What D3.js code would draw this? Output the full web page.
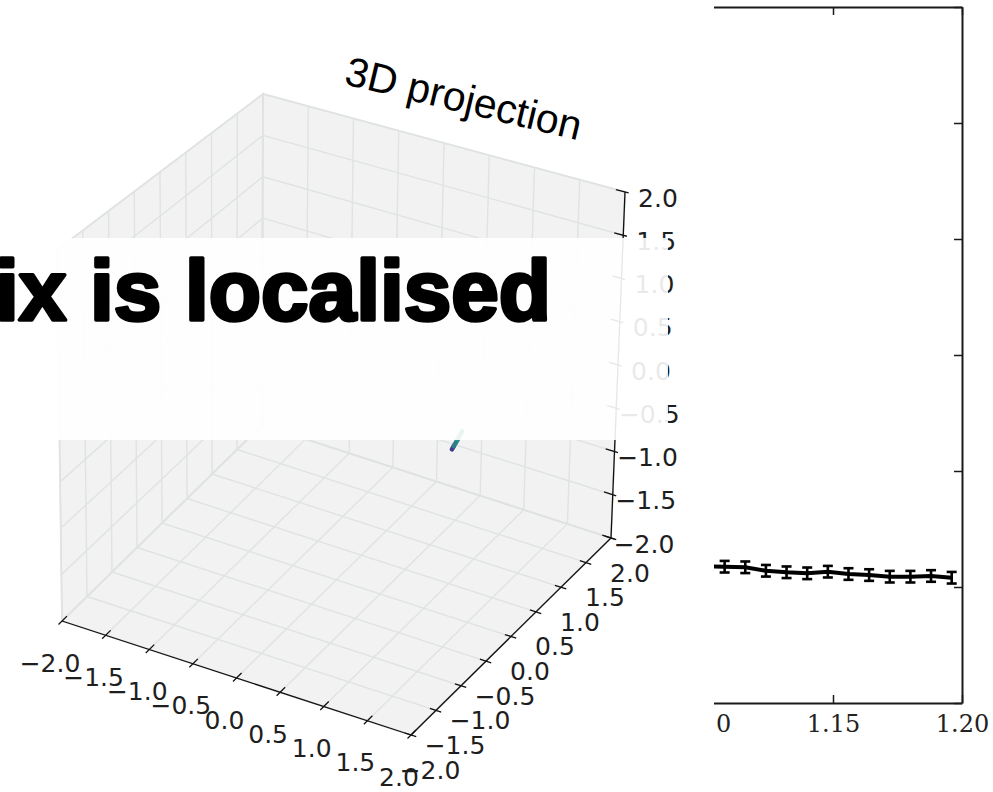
<!DOCTYPE html>
<html>
<head>
<meta charset="utf-8">
<script src="https://cdn.jsdelivr.net/npm/d3@7"></script>
<style>
body{margin:0;background:#fff;overflow:hidden}
svg{display:block}
</style>
</head>
<body>
<script>
//----------------
//Data
//----------------
var ticks3d = [-2, -1.5, -1, -0.5, 0, 0.5, 1, 1.5, 2]

//the bit of the 3D curve that shows below the banner
var curveX = [1.29, 1.31, 1.35, 1.40]
var curveY = [0, 0, 0, 0]
var curveZ = [-0.17, -0.13, -0.05, 0.06]
var curveColors = ['#443a8a', '#2f7d8a', '#2a9184']

//right hand panel (error bar plot)
var errX = [1.100, 1.108, 1.116, 1.124, 1.132, 1.140, 1.148, 1.156, 1.164, 1.172, 1.180, 1.188, 1.196]
var errY = [1.18, 1.175, 1.170, 1.140, 1.127, 1.118, 1.132, 1.112, 1.103, 1.089, 1.089, 1.095, 1.080]
var errE = [0.05, 0.05, 0.05, 0.05, 0.05, 0.05, 0.05, 0.05, 0.05, 0.05, 0.05, 0.05, 0.05]
var panelXTicks = [1.10, 1.15, 1.20]
var panelYTicks = [0, 1, 2, 3, 4, 5, 6]

var bannerText = 'ix is localised'
var titleText = '3D projection'

//----------------
//Layout
//----------------
var _width = 993,
	_height = 792

//screen position of the 8 corners of the 3D box, key = x y z (0 low, 1 high)
var _corners = {
	'000' : [62, 621],
	'100' : [411, 735],
	'010' : [262, 425],
	'110' : [611, 538],
	'001' : [57, 250],
	'101' : [413, 345],
	'011' : [263, 94],
	'111' : [625, 192]
}

var _svg

var _u = d3.scaleLinear().domain([-2, 2]).range([0, 1])
var _fmt = d3.format('.1f')

/**
 * Project a data point of the box with trilinear blending of the corners
 */
function _proj(x, y, z){
	var u = _u(x), v = _u(y), w = _u(z)
	var out = [0, 0]
	for ( var i = 0; i < 2; i++ ){
		for ( var j = 0; j < 2; j++ ){
			for ( var k = 0; k < 2; k++ ){
				var f = (i ? u : 1-u) * (j ? v : 1-v) * (k ? w : 1-w)
				var c = _corners['' + i + j + k]
				out[0] += f * c[0]
				out[1] += f * c[1]
			}
		}
	}
	return out
}

var _line = d3.line()

function _seg(g, a, b){
	return g.append('path').attr('d', _line([_proj.apply(null, a), _proj.apply(null, b)]))
}

function _draw3d(){
	var g = _svg.append('g').attr('id', 'g-3d')

	//Panes: floor, left (x=-2), back (y=2)
	var panes = [
		[[-2,-2,-2],[2,-2,-2],[2,2,-2],[-2,2,-2]],
		[[-2,-2,-2],[-2,2,-2],[-2,2,2],[-2,-2,2]],
		[[-2,2,-2],[2,2,-2],[2,2,2],[-2,2,2]]
	]
	g.append('g').selectAll('path').data(panes).enter().append('path')
		.attr('d', function(d){ return _line(d.map(function(p){ return _proj(p[0], p[1], p[2]) })) + 'Z' })
		.attr('fill', '#f2f2f2')
		.attr('stroke', '#e0e2e2')
		.attr('stroke-width', 1.8)

	//Grid lines
	var gGrid = g.append('g').attr('stroke', '#dfe3e3').attr('stroke-width', 1.4).attr('fill', 'none')
	ticks3d.forEach(function(t){
		//floor
		_seg(gGrid, [t,-2,-2], [t,2,-2])
		_seg(gGrid, [-2,t,-2], [2,t,-2])
		//left pane
		_seg(gGrid, [-2,t,-2], [-2,t,2])
		_seg(gGrid, [-2,-2,t], [-2,2,t])
		//back pane
		_seg(gGrid, [t,2,-2], [t,2,2])
		_seg(gGrid, [-2,2,t], [2,2,t])
	})

	//Axis lines
	var gAx = g.append('g').attr('stroke', '#111').attr('stroke-width', 1.3).attr('fill', 'none')
	_seg(gAx, [-2,-2,-2], [2,-2,-2])
	_seg(gAx, [2,-2,-2], [2,2,-2])
	_seg(gAx, [2,2,-2], [2,2,2])

	//Ticks
	ticks3d.forEach(function(t){
		_seg(gAx, [t,-1.9,-2], [t,-2.07,-2])
		_seg(gAx, [1.93,t,-2], [2.06,t,-2])
		_seg(gAx, [1.9,2,t], [2.04,2,t])
	})

	//Tick labels
	var gLab = g.append('g')
		.attr('font-family', 'DejaVu Sans')
		.attr('font-size', 25)
		.attr('fill', '#1e1e1e')
		.attr('text-anchor', 'middle')
		.attr('dominant-baseline', 'central')
	gLab.selectAll('text.xl').data(ticks3d).enter().append('text')
		.attr('x', function(d){ return _proj(d,-2,-2)[0] - 12 })
		.attr('y', function(d){ return _proj(d,-2,-2)[1] + 42 })
		.text(_fmt)
	gLab.selectAll('text.yl').data(ticks3d).enter().append('text')
		.attr('x', function(d){ return _proj(2,d,-2)[0] + 19 })
		.attr('y', function(d){ return _proj(2,d,-2)[1] + 35 })
		.text(_fmt)
	gLab.selectAll('text.zl').data(ticks3d).enter().append('text')
		.attr('x', function(d){ return _proj(2,2,d)[0] + 33 })
		.attr('y', function(d){ return _proj(2,2,d)[1] + 6 })
		.text(_fmt)

	//The curve (what shows of it)
	var gCurve = g.append('g').attr('fill', 'none').attr('stroke-width', 4.5).attr('stroke-linecap', 'round')
	for ( var i = 0; i < curveX.length - 1; i++ ){
		_seg(gCurve, [curveX[i], curveY[i], curveZ[i]], [curveX[i+1], curveY[i+1], curveZ[i+1]])
			.attr('stroke', curveColors[i])
	}

	//Title
	g.append('text')
		.attr('transform', 'translate(343,84) rotate(13.5)')
		.attr('font-family', 'Liberation Sans, Arial, sans-serif')
		.attr('font-size', 41)
		.attr('fill', '#000')
		.text(titleText)
}

function _drawPanel(){
	var x = d3.scaleLinear().domain([1.10, 1.20]).range([704, 962])
	var y = d3.scaleLinear().domain([0, 6]).range([703, 7])

	_svg.append('clipPath').attr('id', 'clip-panel')
		.append('rect').attr('x', 714).attr('y', 0).attr('width', _width - 714).attr('height', _height)

	var g = _svg.append('g').attr('id', 'g-panel').attr('clip-path', 'url(#clip-panel)')

	var styleAxis = function(sel){
		sel.selectAll('path.domain').attr('stroke', '#1a1a1a').attr('stroke-width', 2)
		sel.selectAll('.tick line').attr('stroke', '#1a1a1a').attr('stroke-width', 1.5)
		sel.selectAll('.tick text')
			.attr('font-family', 'DejaVu Serif')
			.attr('font-size', 24)
			.attr('fill', '#222')
	}

	g.append('g').attr('transform', 'translate(0,' + y(0) + ')')
		.call(d3.axisBottom(x).tickValues(panelXTicks).tickFormat(d3.format('.2f')).tickSizeInner(-8).tickSizeOuter(0).tickPadding(12))
		.call(styleAxis)
	g.append('g').attr('transform', 'translate(0,' + y(6) + ')')
		.call(d3.axisTop(x).tickValues(panelXTicks).tickFormat('').tickSizeInner(-8).tickSizeOuter(0))
		.call(styleAxis)
	g.append('g').attr('transform', 'translate(' + x(1.20) + ',0)')
		.call(d3.axisRight(y).tickValues(panelYTicks).tickFormat('').tickSizeInner(-8).tickSizeOuter(0))
		.call(styleAxis)

	//Error bars
	var idx = d3.range(errX.length)
	var gErr = g.append('g').attr('stroke', '#000').attr('stroke-width', 2.6).attr('fill', 'none')
	gErr.selectAll('line.bar').data(idx).enter().append('line')
		.attr('x1', function(i){ return x(errX[i]) })
		.attr('x2', function(i){ return x(errX[i]) })
		.attr('y1', function(i){ return y(errY[i] - errE[i]) })
		.attr('y2', function(i){ return y(errY[i] + errE[i]) })
	gErr.selectAll('line.capT').data(idx).enter().append('line')
		.attr('x1', function(i){ return x(errX[i]) - 5 })
		.attr('x2', function(i){ return x(errX[i]) + 5 })
		.attr('y1', function(i){ return y(errY[i] + errE[i]) })
		.attr('y2', function(i){ return y(errY[i] + errE[i]) })
	gErr.selectAll('line.capB').data(idx).enter().append('line')
		.attr('x1', function(i){ return x(errX[i]) - 5 })
		.attr('x2', function(i){ return x(errX[i]) + 5 })
		.attr('y1', function(i){ return y(errY[i] - errE[i]) })
		.attr('y2', function(i){ return y(errY[i] - errE[i]) })

	g.append('path')
		.attr('d', d3.line().x(function(i){ return x(errX[i]) }).y(function(i){ return y(errY[i]) })(idx))
		.attr('fill', 'none')
		.attr('stroke', '#000')
		.attr('stroke-width', 4)
		.attr('stroke-linejoin', 'round')
}

function _drawBanner(){
	_svg.append('rect')
		.attr('x', 42).attr('y', 238)
		.attr('width', 668 - 42).attr('height', 440 - 238)
		.attr('fill', '#fff')
		.attr('fill-opacity', 0.9)
	_svg.append('text')
		.attr('transform', 'translate(-5,320) scale(1.03,1.03)')
		.attr('font-family', 'Liberation Sans, Arial, sans-serif')
		.attr('font-weight', 'bold')
		.attr('font-size', 83)
		.attr('fill', '#000')
		.attr('stroke', '#000')
		.attr('stroke-width', 3.5)
		.attr('stroke-linejoin', 'round')
		.text(bannerText)
}

function _draw(){
	_svg = d3.select('body').append('svg')
		.attr('width', _width)
		.attr('height', _height)
	_drawPanel()
	_draw3d()
	_drawBanner()
}

_draw()
</script>
</body>
</html>
